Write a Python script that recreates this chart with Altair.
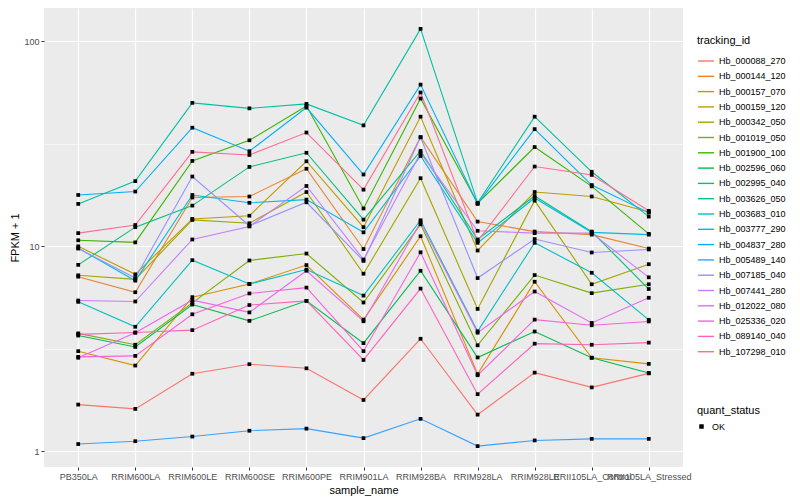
import altair as alt
import pandas as pd

samples = ["PB350LA", "RRIM600LA", "RRIM600LE", "RRIM600SE", "RRIM600PE",
           "RRIM901LA", "RRIM928BA", "RRIM928LA", "RRIM928LE",
           "RRII105LA_Control", "RRII105LA_Stressed"]

tracking_ids = ["Hb_000088_270", "Hb_000144_120", "Hb_000157_070", "Hb_000159_120",
                "Hb_000342_050", "Hb_001019_050", "Hb_001900_100", "Hb_002596_060",
                "Hb_002995_040", "Hb_003626_050", "Hb_003683_010", "Hb_003777_290",
                "Hb_004837_280", "Hb_005489_140", "Hb_007185_040", "Hb_007441_280",
                "Hb_012022_080", "Hb_025336_020", "Hb_089140_040", "Hb_107298_010"]

colors = ["#F8766D", "#EA8331", "#D89000", "#C09B00", "#A3A500", "#7CAE00",
          "#39B600", "#00BB4E", "#00BF7D", "#00C1A3", "#00BFC4", "#00BAE0",
          "#00B0F6", "#35A2FF", "#9590FF", "#C77CFF", "#E76BF3", "#FA62DB",
          "#FF62BC", "#FF6C91"]

# FPKM + 1 per sample, in the order of `samples`
hb_000088_270 = [1.69, 1.61, 2.39, 2.66, 2.54, 1.78, 3.54, 1.51, 2.42, 2.05, 2.40]
hb_000144_120 = [7.11, 5.97, 17.3, 17.5, 23.9, 9.7, 34.1, 13.2, 11.8, 11.4, 9.75]
hb_000157_070 = [3.08, 2.62, 5.65, 6.55, 8.1, 4.39, 11.2, 2.38, 6.72, 2.86, 2.67]
hb_000159_120 = [10.0, 7.3, 13.6, 14.1, 26.0, 12.4, 42.9, 9.54, 18.4, 17.5, 14.7]
hb_000342_050 = [7.22, 6.9, 13.45, 12.96, 18.4, 7.35, 21.5, 4.95, 16.7, 6.53, 8.18]
hb_001019_050 = [3.76, 3.31, 5.3, 8.53, 9.22, 5.32, 12.8, 3.29, 7.24, 5.91, 6.53]
hb_001900_100 = [10.7, 10.45, 26.1, 32.9, 48.4, 15.3, 52.6, 16.2, 30.5, 19.6, 11.5]
hb_002596_060 = [3.67, 3.23, 5.2, 4.33, 5.42, 3.37, 7.6, 2.87, 3.84, 2.86, 2.41]
hb_002995_040 = [8.12, 12.4, 15.8, 24.4, 28.6, 13.5, 29.2, 10.8, 17.6, 11.8, 6.19]
hb_003626_050 = [16.1, 20.8, 50.1, 47.1, 49.5, 38.9, 115.0, 16.3, 42.9, 23.1, 13.96]
hb_003683_010 = [5.36, 4.05, 8.56, 6.55, 7.7, 5.75, 13.4, 3.85, 10.4, 7.43, 4.38]
hb_003777_290 = [9.8, 6.8, 17.8, 16.3, 16.9, 11.7, 27.6, 10.4, 17.2, 11.7, 11.4]
hb_004837_280 = [17.8, 18.5, 37.9, 29.1, 47.5, 22.4, 61.5, 16.1, 37.3, 19.9, 14.6]
hb_005489_140 = [1.085, 1.12, 1.18, 1.26, 1.29, 1.16, 1.44, 1.06, 1.13, 1.15, 1.15]
hb_007185_040 = [9.75, 7.0, 21.9, 12.6, 16.4, 8.49, 34.0, 7.0, 10.85, 9.33, 9.65]
hb_007441_280 = [5.44, 5.38, 10.8, 12.5, 19.7, 8.62, 28.5, 11.9, 11.6, 11.6, 7.06]
hb_012022_080 = [2.86, 3.79, 5.46, 4.76, 7.6, 4.31, 13.1, 3.79, 6.02, 4.23, 5.61]
hb_025336_020 = [2.89, 2.92, 4.66, 5.89, 6.29, 3.08, 9.35, 2.35, 4.39, 4.12, 4.3]
hb_089140_040 = [3.72, 3.80, 3.90, 5.17, 5.42, 2.79, 6.22, 1.90, 3.35, 3.31, 3.39]
hb_107298_010 = [11.6, 12.7, 28.9, 27.9, 35.9, 18.9, 56.3, 10.6, 24.5, 22.3, 14.9]

series = [hb_000088_270, hb_000144_120, hb_000157_070, hb_000159_120, hb_000342_050,
          hb_001019_050, hb_001900_100, hb_002596_060, hb_002995_040, hb_003626_050,
          hb_003683_010, hb_003777_290, hb_004837_280, hb_005489_140, hb_007185_040,
          hb_007441_280, hb_012022_080, hb_025336_020, hb_089140_040, hb_107298_010]

rows = []
for tid, vals in zip(tracking_ids, series):
    for s, v in zip(samples, vals):
        rows.append({"tracking_id": tid, "sample_name": s, "value": v, "quant_status": "OK"})
df = pd.DataFrame(rows)

major_test = "datum.value == 1 || datum.value == 10 || datum.value == 100"

x_enc = alt.X("sample_name:N", sort=samples,
              scale=alt.Scale(type="point", padding=0.6, domain=samples),
              axis=alt.Axis(title="sample_name", labelAngle=0, grid=True, gridColor="white",
                            gridWidth=1.2, domain=False, tickColor="#333333", tickSize=3,
                            labelColor="#4D4D4D", labelFontSize=9, labelPadding=2,
                            titleFontSize=11, titleFontWeight="normal", titleColor="black",
                            titlePadding=3))
y_enc = alt.Y("value:Q",
              scale=alt.Scale(type="log", domain=[0.8384, 145.4], nice=False, zero=False),
              axis=alt.Axis(title="FPKM + 1", values=[1, 3.1623, 10, 31.623, 100],
                            labelExpr="(" + major_test + ") ? format(datum.value, 'd') : ''",
                            grid=True, gridColor="white",
                            gridWidth={"condition": {"test": major_test, "value": 1.2}, "value": 0.6},
                            tickOpacity={"condition": {"test": major_test, "value": 1}, "value": 0},
                            domain=False, tickColor="#333333", tickSize=3,
                            labelColor="#4D4D4D", labelFontSize=9, labelPadding=2,
                            titleFontSize=11, titleFontWeight="normal", titleColor="black",
                            titlePadding=3))

lines = alt.Chart(df).mark_line(strokeWidth=1.1).encode(
    x=x_enc, y=y_enc,
    color=alt.Color("tracking_id:N", sort=tracking_ids,
                    scale=alt.Scale(domain=tracking_ids, range=colors),
                    legend=alt.Legend(title="tracking_id", orient="none", legendX=653, legendY=27,
                                      symbolType="stroke", symbolSize=256, symbolStrokeWidth=1.4,
                                      labelFontSize=9, titleFontSize=11, titleFontWeight="normal",
                                      rowPadding=1.3, titlePadding=6, labelOffset=4)),
    detail="tracking_id:N",
)

points = alt.Chart(df).mark_point(filled=True, size=14, opacity=1, color="black").encode(
    x=alt.X("sample_name:N", sort=samples), y="value:Q",
    shape=alt.Shape("quant_status:N", scale=alt.Scale(domain=["OK"], range=["square"]),
                    legend=alt.Legend(title="quant_status", orient="none", legendX=653, legendY=397,
                                      symbolSize=20, symbolFillColor="black", symbolStrokeColor="black",
                                      labelFontSize=9, titleFontSize=11, titleFontWeight="normal",
                                      titlePadding=6, labelOffset=6)),
)

chart = alt.layer(lines, points).properties(
    width=639, height=459,
    autosize=alt.AutoSizeParams(type="none"),
    padding={"left": 36, "top": 0, "right": 109, "bottom": 33},
).configure(font="Liberation Sans").configure_view(fill="#EBEBEB", stroke=None)

chart.save("out.html", embed_options={"renderer": "svg", "actions": False})
